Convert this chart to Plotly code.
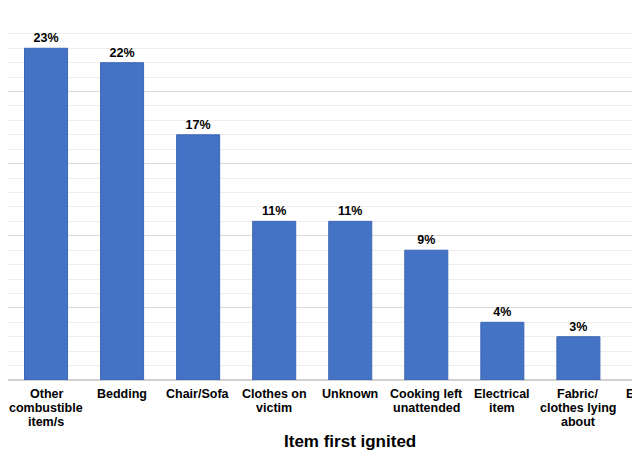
import plotly.graph_objects as go

categories = ["Other<br>combustible<br>item/s", "Bedding", "Chair/Sofa", "Clothes on<br>victim",
              "Unknown", "Cooking left<br>unattended", "Electrical<br>item",
              "Fabric/<br>clothes lying<br>about", "Electrical<br>cooker"]
values = [23, 22, 17, 11, 11, 9, 4, 3, 2]
value_labels = ["23%", "22%", "17%", "11%", "11%", "9%", "4%", "3%", "2%"]
axis_title = "Item first ignited"

FONT = "Liberation Sans, Arial, sans-serif"
x_idx = list(range(len(categories)))
X_RANGE = [-0.5, 7.81]
LINE_H = 14

fig = go.Figure()
fig.add_trace(go.Bar(
    x=x_idx, y=values,
    marker=dict(color="#4472C4", line=dict(color="#3d68b5", width=1)),
    width=0.566,
    text=value_labels, textposition="outside",
    texttemplate="<b>%{text}</b>",
    textfont=dict(family=FONT, size=12.5, color="#000000"),
    cliponaxis=False,
    hoverinfo="skip",
))

span = X_RANGE[1] - X_RANGE[0]
for i, c in enumerate(categories):
    xp = (i - X_RANGE[0]) / span
    for j, line in enumerate(c.split("<br>")):
        fig.add_annotation(x=xp, y=0, xref="paper", yref="y", text="<b>%s</b>" % line,
                           showarrow=False, xanchor="center", yanchor="middle",
                           yshift=-14 - LINE_H * j,
                           font=dict(family=FONT, size=12.5, color="#000000"),
                           align="center")

fig.add_annotation(x=(len(categories) - 1) / 2, y=0, xref="x", yref="y",
                   text="<b>%s</b>" % axis_title, showarrow=False,
                   xanchor="center", yanchor="middle", yshift=-61,
                   font=dict(family=FONT, size=17, color="#000000"))

fig.update_layout(
    width=632, height=456,
    margin=dict(l=0, r=0, t=11, b=84),
    paper_bgcolor="white", plot_bgcolor="white",
    showlegend=False,
    font=dict(family=FONT),
)
fig.update_xaxes(range=X_RANGE, showticklabels=False, showgrid=False,
                 zeroline=False, showline=False, ticks="")
fig.update_yaxes(range=[0, 25.03], dtick=5, showticklabels=False, ticks="",
                 showgrid=True, gridcolor="#d9d9d9", gridwidth=1,
                 zeroline=True, zerolinecolor="#d0d0d0", zerolinewidth=1.5,
                 minor=dict(dtick=1, showgrid=True, gridcolor="#eeeeee", gridwidth=1))

fig.write_html("out.html")
